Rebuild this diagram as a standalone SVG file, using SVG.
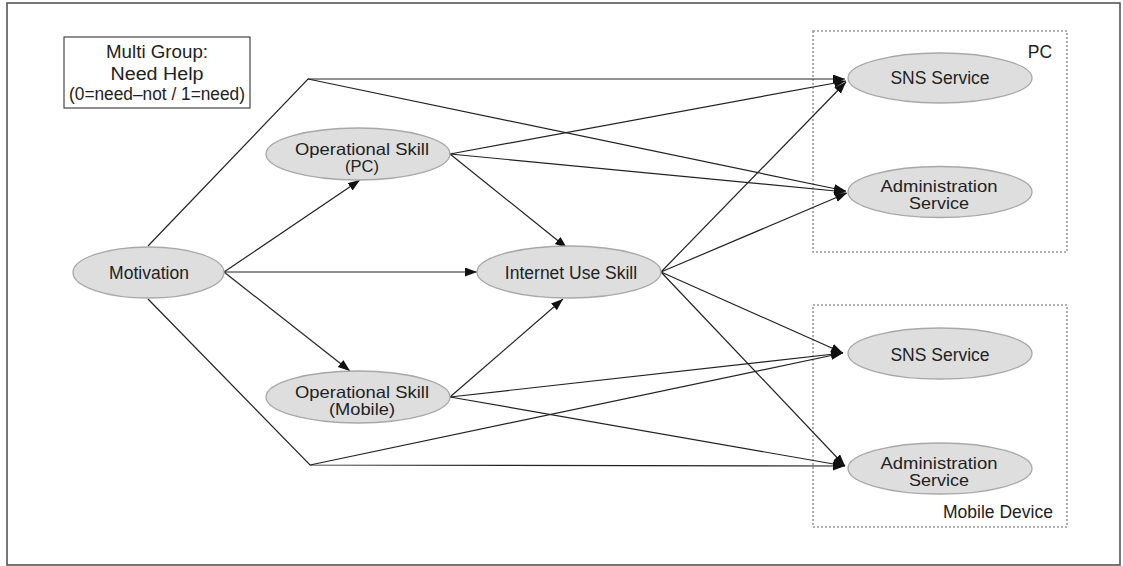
<svg xmlns="http://www.w3.org/2000/svg" width="1123" height="566" viewBox="0 0 1123 566">
  <style>
    .node ellipse { fill: #dedede; stroke: #a8a8a8; stroke-width: 1.3; }
    .lbl { font-family: "Liberation Sans", Arial, sans-serif; font-size: 17.5px; fill: #222; text-anchor: middle; }
    .two { font-size: 16.5px; }
    .edge { fill: none; stroke: #222; stroke-width: 1.2; }
    .arr { marker-end: url(#head); }
    .grp { fill: none; stroke: #999; stroke-width: 1.6; stroke-dasharray: 2 2; }
  </style>
  <defs>
    <marker id="head" markerUnits="userSpaceOnUse" markerWidth="13" markerHeight="10" refX="12" refY="4.5" orient="auto">
      <path d="M0,0 L12,4.5 L0,9 z" fill="#111"/>
    </marker>
  </defs>

  <!-- outer frame -->
  <rect x="7" y="3" width="1113" height="562" fill="#fff" stroke="#555" stroke-width="1.6"/>

  <!-- legend box -->
  <g id="legend">
    <rect x="64" y="37" width="186" height="71" fill="#fff" stroke="#333" stroke-width="1.1"/>
    <text class="lbl" x="157" y="58" font-size="16.5" textLength="102" lengthAdjust="spacingAndGlyphs">Multi Group:</text>
    <text class="lbl" x="157" y="80" font-size="16.5" textLength="93" lengthAdjust="spacingAndGlyphs">Need Help</text>
    <text class="lbl" x="157" y="100" font-size="13" textLength="176" lengthAdjust="spacingAndGlyphs">(0=need–not / 1=need)</text>
  </g>

  <!-- device groups -->
  <g id="group-pc">
    <rect class="grp" x="813" y="31" width="254" height="221"/>
    <text class="lbl" x="1040" y="58">PC</text>
  </g>
  <g id="group-mobile">
    <rect class="grp" x="813" y="305" width="254" height="222"/>
    <text class="lbl" x="998" y="518">Mobile Device</text>
  </g>

  <!-- connectors -->
  <g id="connectors">
    <path class="edge arr" d="M148,246 L308,79 L845,79"/>
    <path class="edge arr" d="M308,79 L846,191"/>
    <path class="edge arr" d="M148,299 L310,465 L845,466"/>
    <path class="edge arr" d="M310,465 L843,353"/>
    <path class="edge arr" d="M224,272 L360,180"/>
    <path class="edge arr" d="M224,272 L477,272"/>
    <path class="edge arr" d="M224,272 L350,371"/>
    <path class="edge arr" d="M450,154 L567,248"/>
    <path class="edge arr" d="M450,154 L846,81"/>
    <path class="edge arr" d="M450,154 L846,192"/>
    <path class="edge arr" d="M450,397 L563,299"/>
    <path class="edge arr" d="M450,397 L843,353"/>
    <path class="edge arr" d="M450,397 L845,466"/>
    <path class="edge arr" d="M661,272 L846,82"/>
    <path class="edge arr" d="M661,272 L847,193"/>
    <path class="edge arr" d="M661,272 L843,353"/>
    <path class="edge arr" d="M661,272 L845,466"/>
  </g>

  <!-- nodes -->
  <g id="motivation" class="node">
    <ellipse cx="148.5" cy="272.5" rx="75.5" ry="25.5"/>
    <text class="lbl" x="149" y="279">Motivation</text>
  </g>
  <g id="op-skill-pc" class="node">
    <ellipse cx="358" cy="154" rx="92" ry="26"/>
    <text class="lbl two" x="362" y="155" textLength="134" lengthAdjust="spacingAndGlyphs">Operational Skill</text>
    <text class="lbl two" x="362" y="172">(PC)</text>
  </g>
  <g id="internet-use-skill" class="node">
    <ellipse cx="569" cy="272" rx="92" ry="26"/>
    <text class="lbl" x="571" y="279">Internet Use Skill</text>
  </g>
  <g id="op-skill-mobile" class="node">
    <ellipse cx="358" cy="397" rx="92" ry="26"/>
    <text class="lbl two" x="362" y="398" textLength="134" lengthAdjust="spacingAndGlyphs">Operational Skill</text>
    <text class="lbl two" x="362" y="415" textLength="66" lengthAdjust="spacingAndGlyphs">(Mobile)</text>
  </g>
  <g id="sns-pc" class="node">
    <ellipse cx="940" cy="78" rx="92" ry="25"/>
    <text class="lbl" x="940" y="84">SNS Service</text>
  </g>
  <g id="admin-pc" class="node">
    <ellipse cx="940" cy="192" rx="92" ry="25.5"/>
    <text class="lbl two" x="939" y="192" textLength="117" lengthAdjust="spacingAndGlyphs">Administration</text>
    <text class="lbl two" x="939" y="209" textLength="60" lengthAdjust="spacingAndGlyphs">Service</text>
  </g>
  <g id="sns-mobile" class="node">
    <ellipse cx="940" cy="353.5" rx="92" ry="25.5"/>
    <text class="lbl" x="940" y="361">SNS Service</text>
  </g>
  <g id="admin-mobile" class="node">
    <ellipse cx="940" cy="468.5" rx="92" ry="25.5"/>
    <text class="lbl two" x="939" y="469" textLength="117" lengthAdjust="spacingAndGlyphs">Administration</text>
    <text class="lbl two" x="939" y="486" textLength="60" lengthAdjust="spacingAndGlyphs">Service</text>
  </g>
</svg>
